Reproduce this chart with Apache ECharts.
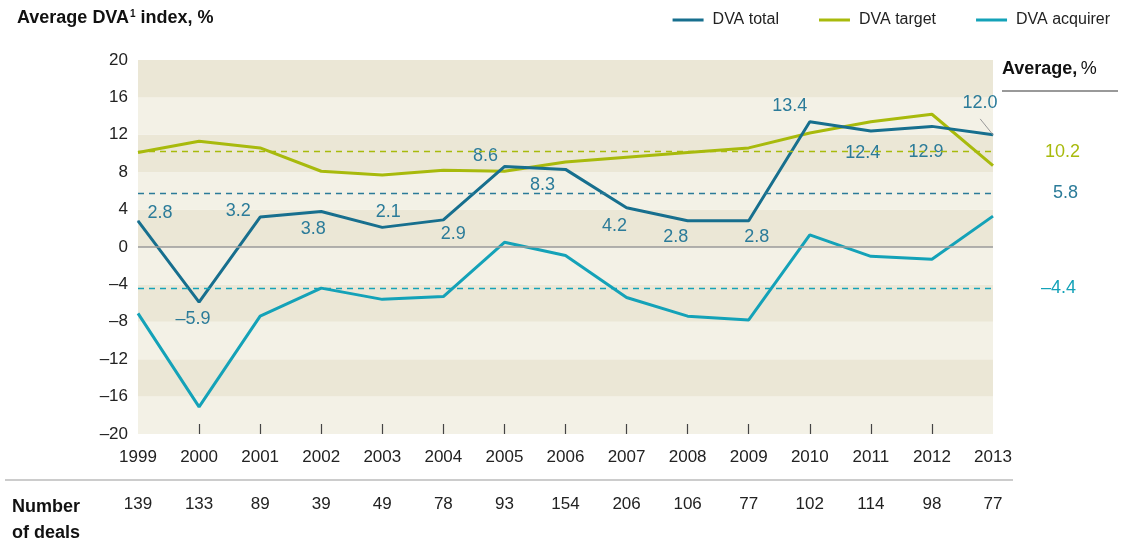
<!DOCTYPE html>
<html>
<head>
<meta charset="utf-8">
<script src="https://cdn.jsdelivr.net/npm/echarts@6/dist/echarts.min.js"></script>
<style>
  html, body { margin: 0; padding: 0; background: #fff; }
  #chart { width: 1131px; height: 542px; }
</style>
</head>
<body>
<div id="chart"></div>
<script>
const years = ['1999', '2000', '2001', '2002', '2003', '2004', '2005', '2006', '2007', '2008', '2009', '2010', '2011', '2012', '2013'];
const dvaTotal = [2.8, -5.9, 3.2, 3.8, 2.1, 2.9, 8.6, 8.3, 4.2, 2.8, 2.8, 13.4, 12.4, 12.9, 12.0];
const dvaTarget = [10.1, 11.3, 10.6, 8.1, 7.7, 8.2, 8.1, 9.1, 9.6, 10.1, 10.6, 12.2, 13.4, 14.2, 8.7];
const dvaAcquirer = [-7.1, -17.1, -7.4, -4.4, -5.6, -5.3, 0.5, -0.9, -5.4, -7.4, -7.8, 1.3, -1.0, -1.3, 3.3];
const averages = { total: 5.8, target: 10.2, acquirer: -4.4 };
const deals = [139, 133, 89, 39, 49, 78, 93, 154, 206, 106, 77, 102, 114, 98, 77];

// 标签相对数据点的偏移（像素）
const labelOffsets = [[22, -8], [-6, 17], [-22, -6], [-8, 18], [6, -15], [10, 14], [-19, -11], [-23, 16],
  [-12, 18], [-12, 16], [8, 16], [-20, -16], [-8, 22], [-6, 26], [-13, -32]];
// 12.0 标签的引线（类目索引, 数值）
const leader = [[14, 12.0], [13.79, 13.7]];

const C_TOTAL = '#176f8e';
const C_TARGET = '#a8ba0c';
const C_ACQ = '#14a2b8';
const C_LABEL = '#2b7b99';
const FONT = 'Liberation Sans, Arial, sans-serif';

const fmtNum = v => String(v).replace('-', '\u2013');
const fmtFixed = v => (v < 0 ? '\u2013' : '') + Math.abs(v).toFixed(1);

const chart = echarts.init(document.getElementById('chart'));

const avgLine = (value, color, distance) => ({
  silent: true,
  symbol: 'none',
  lineStyle: { color: color, type: [6, 5], width: 1.3 },
  label: {
    show: true, position: 'end', distance: distance,
    formatter: () => fmtFixed(value),
    color: color, fontSize: 18, fontFamily: FONT
  },
  data: [{ yAxis: value }]
});

const option = {
  animation: false,
  textStyle: { fontFamily: FONT },
  title: {
    left: 12, top: 4,
    text: '{b|Average DVA}{sup|1}{b| index,} {n|%}',
    textStyle: {
      rich: {
        b: { fontSize: 18, fontWeight: 'bold', color: '#111', fontFamily: FONT },
        sup: { fontSize: 10, color: '#111', verticalAlign: 'top', padding: [0, 0, 8, 1], fontFamily: FONT },
        n: { fontSize: 18, color: '#111', fontFamily: FONT }
      }
    }
  },
  legend: {
    top: 7, right: 16,
    icon: 'rect', itemWidth: 31, itemHeight: 3, itemGap: 40,
    textStyle: { fontSize: 16, color: '#222', padding: [0, 0, 0, 4] },
    data: ['DVA total', 'DVA target', 'DVA acquirer']
  },
  grid: { left: 138, right: 138, top: 60, bottom: 108 },
  xAxis: [{
    type: 'category',
    data: years,
    boundaryGap: false,
    axisLine: { show: false, onZero: false },
    axisTick: {
      show: true, inside: true, length: 10,
      interval: i => i > 0 && i < years.length - 1,
      lineStyle: { color: '#444', width: 1.2 }
    },
    axisLabel: { fontSize: 17, color: '#222', margin: 15, interval: 0 }
  }, {
    type: 'category',
    data: years,
    position: 'bottom',
    offset: 47,
    boundaryGap: false,
    axisLine: { show: false, onZero: false },
    axisTick: { show: false },
    axisLabel: { fontSize: 17, color: '#222', margin: 15, interval: 0, formatter: (v, i) => String(deals[i]) }
  }, {
    type: 'value',
    min: 0, max: years.length - 1,
    show: false
  }],
  yAxis: {
    type: 'value',
    min: -20, max: 20, interval: 4,
    axisLine: { show: false },
    axisTick: { show: false },
    splitLine: { show: false },
    splitArea: { show: true, areaStyle: { color: ['#f3f1e6', '#ebe7d6'] } },
    axisLabel: { fontSize: 17, color: '#222', margin: 10, formatter: fmtNum }
  },
  series: [
    {
      name: 'DVA total',
      type: 'line',
      data: dvaTotal.map((v, i) => ({
        value: v,
        label: { offset: labelOffsets[i] }
      })),
      color: C_TOTAL,
      lineStyle: { width: 3, color: C_TOTAL },
      symbol: 'circle', symbolSize: 1,
      z: 4,
      label: {
        show: true, position: 'inside',
        formatter: p => fmtFixed(p.value),
        color: C_LABEL, fontSize: 18
      },
      markLine: avgLine(averages.total, C_LABEL, 60)
    },
    {
      name: 'DVA target',
      type: 'line',
      data: dvaTarget,
      color: C_TARGET,
      lineStyle: { width: 3, color: C_TARGET },
      showSymbol: false,
      z: 3,
      markLine: avgLine(averages.target, C_TARGET, 52)
    },
    {
      name: 'DVA acquirer',
      type: 'line',
      data: dvaAcquirer,
      color: C_ACQ,
      lineStyle: { width: 3, color: C_ACQ },
      showSymbol: false,
      z: 3,
      markLine: avgLine(averages.acquirer, C_ACQ, 48)
    },
    {
      // 零线
      type: 'line',
      data: [],
      markLine: {
        silent: true,
        symbol: 'none',
        label: { show: false },
        lineStyle: { color: '#9a9a9a', width: 1.5, type: 'solid' },
        data: [{ yAxis: 0 }]
      },
      z: 2
    },
    {
      // 引线
      type: 'line',
      xAxisIndex: 2,
      data: leader,
      showSymbol: false,
      silent: true,
      lineStyle: { color: '#999', width: 1 },
      z: 5
    }
  ],
  graphic: [
    {
      type: 'text', left: 1002, top: 60,
      style: {
        text: '{b|Average,} {n|%}',
        rich: {
          b: { fontSize: 18, fontWeight: 'bold', fill: '#111', fontFamily: FONT },
          n: { fontSize: 18, fill: '#111', fontFamily: FONT }
        }
      }
    },
    {
      type: 'line', shape: { x1: 1002, y1: 91, x2: 1118, y2: 91 },
      style: { stroke: '#777', lineWidth: 1.5 }
    },
    {
      type: 'line', shape: { x1: 5, y1: 480, x2: 1013, y2: 480 },
      style: { stroke: '#bbb', lineWidth: 1.5 }
    },
    {
      type: 'text', left: 12, top: 494,
      style: {
        text: 'Number\nof deals',
        fontSize: 18, fontWeight: 'bold', fill: '#111', lineHeight: 26, fontFamily: FONT
      }
    }
  ]
};

chart.setOption(option);
</script>
</body>
</html>
